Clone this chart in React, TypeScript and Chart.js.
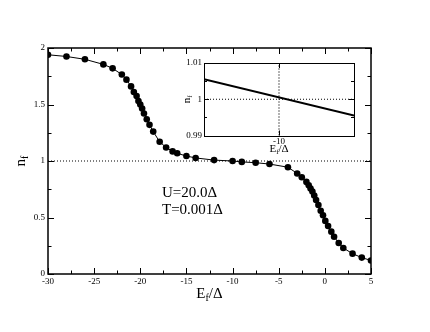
import React, { useEffect, useRef } from "react";
import { Chart, registerables } from "chart.js";
Chart.register(...registerables);

// Main curve: n_f versus E_f/Δ
const mainX = [-30, -28, -26, -24, -23, -22, -21.5, -21, -20.7, -20.4, -20.2, -20, -19.8, -19.6, -19.3, -19, -18.6, -17.9, -17.2, -16.5, -16, -15, -14, -12, -10, -9, -7.5, -6, -4, -3, -2.5, -2, -1.75, -1.55, -1.35, -1.15, -0.95, -0.7, -0.45, -0.2, 0.05, 0.35, 0.7, 1, 1.5, 2, 3, 4, 5];
const mainY = [1.94, 1.925, 1.9, 1.855, 1.82, 1.765, 1.72, 1.66, 1.61, 1.575, 1.53, 1.5, 1.465, 1.42, 1.37, 1.32, 1.26, 1.17, 1.12, 1.085, 1.068, 1.044, 1.027, 1.008, 1.0, 0.992, 0.985, 0.973, 0.945, 0.89, 0.856, 0.815, 0.785, 0.757, 0.73, 0.695, 0.655, 0.61, 0.56, 0.52, 0.47, 0.425, 0.375, 0.33, 0.275, 0.23, 0.18, 0.145, 0.12];
const refLevel = 1;
const mainXMajor = [-30, -25, -20, -15, -10, -5, 0, 5];
const mainYMajor = [0, 0.5, 1, 1.5, 2];

// Inset (zoom around E_f = -10)
const insetX = [-11, -9];
const insetY = [1.0055, 0.9955];
const insetXMajor = [-10];
const insetYMajor = [0.99, 1, 1.01];
const insetYMinor = [0.995, 1.005];

const annotation = ["U=20.0Δ", "T=0.001Δ"];

const FONT = '"Liberation Serif", "Times New Roman", serif';

type Part = { t: string; size: number; dy?: number };

function partsWidth(ctx: CanvasRenderingContext2D, parts: Part[]) {
  let w = 0;
  for (const p of parts) {
    ctx.font = `${p.size}px ${FONT}`;
    w += ctx.measureText(p.t).width;
  }
  return w;
}

function drawParts(ctx: CanvasRenderingContext2D, x: number, y: number, parts: Part[]) {
  let cx = x;
  ctx.textAlign = "left";
  ctx.textBaseline = "alphabetic";
  for (const p of parts) {
    ctx.font = `${p.size}px ${FONT}`;
    ctx.fillText(p.t, cx, y + (p.dy || 0));
    cx += ctx.measureText(p.t).width;
  }
}

function seg(ctx: CanvasRenderingContext2D, x1: number, y1: number, x2: number, y2: number) {
  ctx.beginPath();
  ctx.moveTo(x1, y1);
  ctx.lineTo(x2, y2);
  ctx.stroke();
}

function midpoints(arr: number[]) {
  const out: number[] = [];
  for (let i = 0; i < arr.length - 1; i++) out.push((arr[i] + arr[i + 1]) / 2);
  return out;
}

const mainFrame = {
  id: "mainFrame",
  afterDraw(chart: any) {
    const { ctx, chartArea: a, scales } = chart;
    const x = scales.x, y = scales.y;
    ctx.save();
    ctx.strokeStyle = "#000";
    ctx.fillStyle = "#000";
    ctx.lineWidth = 1.5;
    ctx.strokeRect(a.left, a.top, a.right - a.left, a.bottom - a.top);
    ctx.lineWidth = 1;
    const xt = (v: number, len: number) => {
      const px = Math.round(x.getPixelForValue(v)) + 0.5;
      seg(ctx, px, a.bottom, px, a.bottom - len);
      seg(ctx, px, a.top, px, a.top + len);
    };
    const yt = (v: number, len: number) => {
      const py = Math.round(y.getPixelForValue(v)) + 0.5;
      seg(ctx, a.left, py, a.left + len, py);
      seg(ctx, a.right, py, a.right - len, py);
    };
    mainXMajor.forEach((v) => xt(v, 6));
    midpoints(mainXMajor).forEach((v) => xt(v, 3.5));
    mainYMajor.forEach((v) => yt(v, 6));
    midpoints(mainYMajor).forEach((v) => yt(v, 3.5));

    // annotation
    ctx.font = `15px ${FONT}`;
    ctx.textAlign = "left";
    ctx.textBaseline = "alphabetic";
    ctx.fillText(annotation[0], 162, 197);
    ctx.fillText(annotation[1], 162, 214);

    // x title
    const xTitle: Part[] = [
      { t: "E", size: 15 },
      { t: "f", size: 10, dy: 3 },
      { t: "/Δ", size: 15 },
    ];
    const w = partsWidth(ctx, xTitle);
    drawParts(ctx, (a.left + a.right) / 2 - w / 2, 298, xTitle);

    // y title (rotated)
    const yTitle: Part[] = [
      { t: "n", size: 15 },
      { t: "f", size: 10, dy: 3 },
    ];
    const wy = partsWidth(ctx, yTitle);
    ctx.save();
    ctx.translate(25, (a.top + a.bottom) / 2);
    ctx.rotate(-Math.PI / 2);
    drawParts(ctx, -wy / 2, 0, yTitle);
    ctx.restore();
    ctx.restore();
  },
};

const insetFrame = {
  id: "insetFrame",
  beforeDraw(chart: any) {
    const { ctx, chartArea: a } = chart;
    ctx.save();
    ctx.fillStyle = "#fff";
    ctx.fillRect(a.left, a.top, a.right - a.left, a.bottom - a.top);
    ctx.restore();
  },
  afterDraw(chart: any) {
    const { ctx, chartArea: a, scales } = chart;
    const x = scales.x, y = scales.y;
    ctx.save();
    ctx.strokeStyle = "#000";
    ctx.fillStyle = "#000";
    ctx.lineWidth = 1;
    ctx.strokeRect(Math.round(a.left) + 0.5, Math.round(a.top) + 0.5, Math.round(a.right - a.left), Math.round(a.bottom - a.top));
    const yt = (v: number, len: number) => {
      const py = Math.round(y.getPixelForValue(v)) + 0.5;
      seg(ctx, a.left, py, a.left + len, py);
      seg(ctx, a.right, py, a.right - len, py);
    };
    insetYMajor.forEach((v) => yt(v, 5));
    insetYMinor.forEach((v) => yt(v, 3));
    insetXMajor.forEach((v) => {
      const px = Math.round(x.getPixelForValue(v)) + 0.5;
      seg(ctx, px, a.bottom, px, a.bottom - 5);
      seg(ctx, px, a.top, px, a.top + 5);
    });

    const xTitle: Part[] = [
      { t: "E", size: 11 },
      { t: "f", size: 7, dy: 2 },
      { t: "/Δ", size: 11 },
    ];
    const w = partsWidth(ctx, xTitle);
    drawParts(ctx, (a.left + a.right) / 2 - w / 2, a.bottom + 16, xTitle);

    const yTitle: Part[] = [
      { t: "n", size: 11 },
      { t: "f", size: 7, dy: 2 },
    ];
    const wy = partsWidth(ctx, yTitle);
    ctx.save();
    ctx.translate(a.left - 14, (a.top + a.bottom) / 2);
    ctx.rotate(-Math.PI / 2);
    drawParts(ctx, -wy / 2, 0, yTitle);
    ctx.restore();
    ctx.restore();
  },
};

export default function App() {
  const mainRef = useRef<HTMLCanvasElement>(null);
  const insetRef = useRef<HTMLCanvasElement>(null);

  useEffect(() => {
    const tickFont = { family: FONT, size: 9 };
    const main = new Chart(mainRef.current!, {
      type: "line",
      data: {
        datasets: [
          {
            data: [
              { x: mainXMajor[0], y: refLevel },
              { x: mainXMajor[mainXMajor.length - 1], y: refLevel },
            ],
            borderColor: "#000",
            borderWidth: 1.2,
            borderDash: [1, 2],
            pointRadius: 0,
          },
          {
            data: mainX.map((v, i) => ({ x: v, y: mainY[i] })),
            borderColor: "#000",
            borderWidth: 1,
            pointRadius: 3.3,
            pointBackgroundColor: "#000",
            pointBorderWidth: 0,
            tension: 0,
          },
        ],
      },
      options: {
        animation: false,
        responsive: false,
        devicePixelRatio: 1,
        layout: { padding: { top: 48, right: 59, left: 0, bottom: 0 } },
        plugins: { legend: { display: false }, tooltip: { enabled: false } },
        scales: {
          x: {
            type: "linear",
            min: -30,
            max: 5,
            afterBuildTicks: (s: any) => {
              s.ticks = mainXMajor.map((v) => ({ value: v }));
            },
            ticks: { font: tickFont, color: "#000", padding: 2, maxRotation: 0, autoSkip: false, callback: (v: any) => String(v) },
            grid: { display: false, drawTicks: false },
            border: { display: false },
            afterFit: (s: any) => {
              s.height = 58;
            },
          },
          y: {
            type: "linear",
            min: 0,
            max: 2,
            afterBuildTicks: (s: any) => {
              s.ticks = mainYMajor.map((v) => ({ value: v }));
            },
            ticks: { font: tickFont, color: "#000", padding: 3, autoSkip: false, callback: (v: any) => String(v) },
            grid: { display: false, drawTicks: false },
            border: { display: false },
            afterFit: (s: any) => {
              s.width = 48;
            },
          },
        },
      },
      plugins: [mainFrame],
    } as any);

    const inset = new Chart(insetRef.current!, {
      type: "line",
      data: {
        datasets: [
          {
            data: [
              { x: insetX[0], y: refLevel },
              { x: insetX[insetX.length - 1], y: refLevel },
            ],
            borderColor: "#000",
            borderWidth: 1.2,
            borderDash: [1, 2],
            pointRadius: 0,
          },
          {
            data: [
              { x: insetXMajor[0], y: insetYMajor[0] },
              { x: insetXMajor[0], y: insetYMajor[insetYMajor.length - 1] },
            ],
            borderColor: "#000",
            borderWidth: 1.2,
            borderDash: [1, 2],
            pointRadius: 0,
          },
          {
            data: insetX.map((v, i) => ({ x: v, y: insetY[i] })),
            borderColor: "#000",
            borderWidth: 2,
            pointRadius: 0,
          },
        ],
      },
      options: {
        animation: false,
        responsive: false,
        devicePixelRatio: 1,
        layout: { padding: { top: 13, right: 11, left: 0, bottom: 0 } },
        plugins: { legend: { display: false }, tooltip: { enabled: false } },
        scales: {
          x: {
            type: "linear",
            min: insetX[0],
            max: insetX[insetX.length - 1],
            afterBuildTicks: (s: any) => {
              s.ticks = insetXMajor.map((v) => ({ value: v }));
            },
            ticks: { font: { family: FONT, size: 9 }, color: "#000", padding: 1, maxRotation: 0, autoSkip: false, callback: (v: any) => String(v) },
            grid: { display: false, drawTicks: false },
            border: { display: false },
            afterFit: (s: any) => {
              s.height = 24.5;
            },
          },
          y: {
            type: "linear",
            min: insetYMajor[0],
            max: insetYMajor[insetYMajor.length - 1],
            afterBuildTicks: (s: any) => {
              s.ticks = insetYMajor.map((v) => ({ value: v }));
            },
            ticks: {
              font: { family: FONT, size: 9 },
              color: "#000",
              padding: 2,
              autoSkip: false,
              callback: (v: any) => (Math.abs(v - 1) < 1e-9 ? "1" : Number(v).toFixed(2)),
            },
            grid: { display: false, drawTicks: false },
            border: { display: false },
            afterFit: (s: any) => {
              s.width = 39;
            },
          },
        },
      },
      plugins: [insetFrame],
    } as any);

    return () => {
      main.destroy();
      inset.destroy();
    };
  }, []);

  return (
    <div style={{ position: "fixed", left: 0, top: 0, width: 430, height: 332, background: "#fff" }}>
      <canvas ref={mainRef} width={430} height={332} style={{ position: "absolute", left: 0, top: 0 }} />
      <canvas ref={insetRef} width={200} height={110} style={{ position: "absolute", left: 165, top: 50 }} />
    </div>
  );
}
